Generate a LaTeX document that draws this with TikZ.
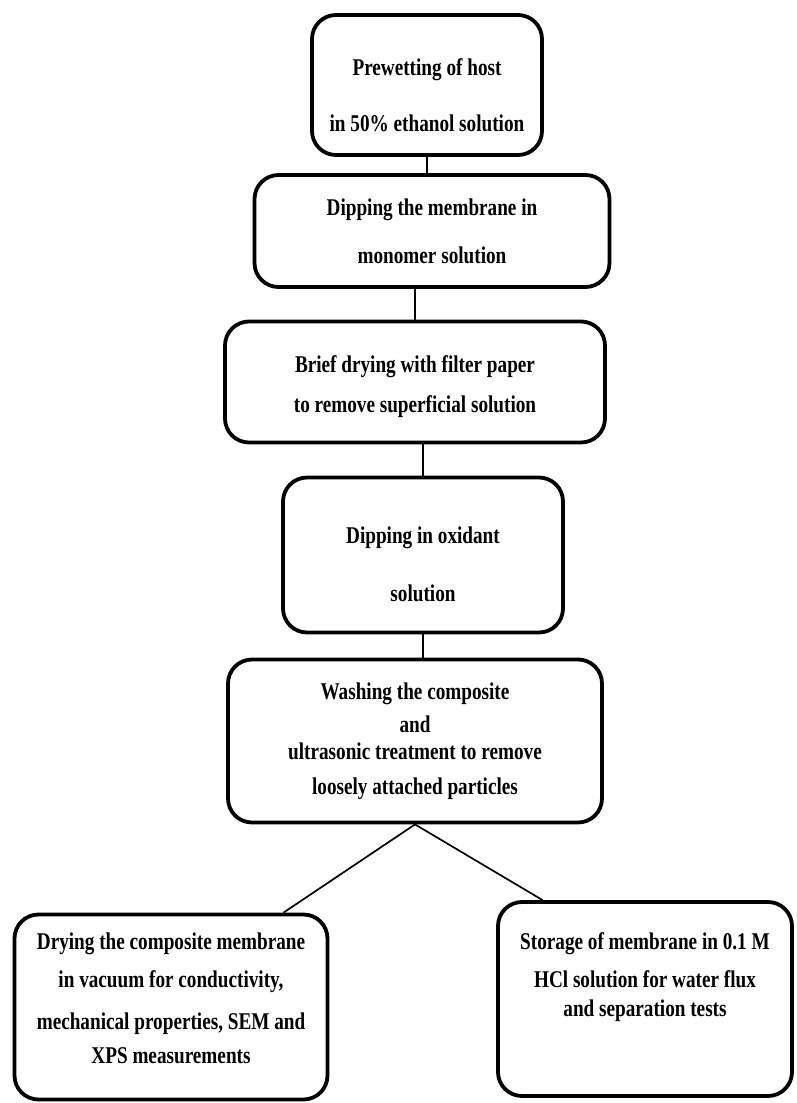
\documentclass[tikz,border=0pt]{standalone}
\usepackage{fontspec}
\setmainfont[FakeStretch=0.8]{Liberation Serif}

\begin{document}
\begin{tikzpicture}[x=1pt, y=-1pt,
  stepbox/.style={draw, line width=3.8pt, rounded corners=24pt, align=center,
    inner sep=0pt, font=\bfseries\fontsize{24}{26}\selectfont},
  link/.style={line width=1.7pt}]
  \useasboundingbox (0,0) rectangle (796,1103);
  \node[stepbox, minimum width=230pt, minimum height=140pt, text height=93pt] (prewet) at (427,85)
    {Prewetting of host\\[30pt]in 50\% ethanol solution};
  \node[stepbox, minimum width=355pt, minimum height=112pt] (dipmono) at (432,231)
    {Dipping the membrane in\\[22pt]monomer solution};
  \node[stepbox, minimum width=380pt, minimum height=121pt, text height=67pt] (blot) at (415,382)
    {Brief drying with filter paper\\[14pt]to remove superficial solution};
  \node[stepbox, minimum width=280pt, minimum height=155pt, text height=93pt] (oxid) at (423,555)
    {Dipping in oxidant\\[32pt]solution};
  \node[stepbox, minimum width=374pt, minimum height=163pt] (wash) at (415,741)
    {Washing the composite\\[7pt]and\\[1pt]ultrasonic treatment to remove\\[9pt]loosely attached particles};
  \node[stepbox, minimum width=313pt, minimum height=185pt, text depth=18pt] (dryvac) at (171,1007)
    {Drying the composite membrane\\[12pt]in vacuum for conductivity,\\[16pt]mechanical properties, SEM and\\[8pt]XPS measurements};
  \node[stepbox, minimum width=294pt, minimum height=194pt, text depth=48pt] (store) at (645,999)
    {Storage of membrane in 0.1 M\\[12pt]HCl solution for water flux\\[3pt]and separation tests};
  \draw[link] (prewet.south) -- (prewet.south |- dipmono.north);
  \draw[link] (blot.north |- dipmono.south) -- (blot.north);
  \draw[link] (oxid.north |- blot.south) -- (oxid.north);
  \draw[link] (oxid.south) -- (oxid.south |- wash.north);
  \draw[link] (dryvac.40) -- (wash.south) -- (store.136);
\end{tikzpicture}
\end{document}
